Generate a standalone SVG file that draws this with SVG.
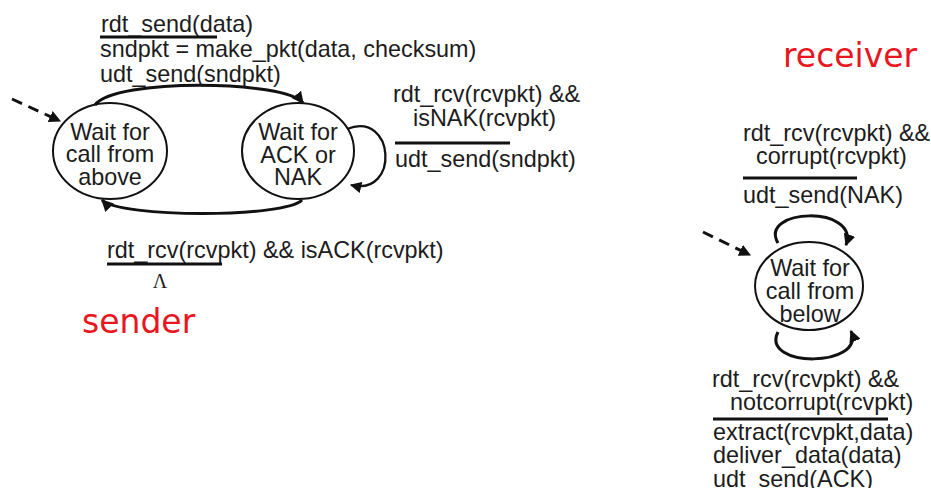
<svg xmlns="http://www.w3.org/2000/svg" width="931" height="488" viewBox="0 0 931 488">
<style>
.t{font-family:"Liberation Sans",Arial,sans-serif;font-size:23.4px;fill:#1c1c1c}
.c{text-anchor:middle}
.st{fill:none;stroke:#111;stroke-width:2}
.e{fill:none;stroke:#111;stroke-width:3}
.s{fill:none;stroke:#111;stroke-width:2.3}
.d{fill:none;stroke:#111;stroke-width:3;stroke-dasharray:11 7}
.u{stroke:#111;stroke-width:3}
.r{font-family:"DejaVu Sans",sans-serif;font-size:33px;fill:#e8161e}
</style>
<defs>
<marker id="ah" viewBox="0 0 10 10" refX="9" refY="5" markerWidth="4" markerHeight="4" orient="auto" markerUnits="strokeWidth">
<path d="M0,0 L10,5 L0,10 z" fill="#111"/>
</marker>
<marker id="ah2" viewBox="0 0 10 10" refX="9" refY="5" markerWidth="5" markerHeight="5" orient="auto" markerUnits="strokeWidth">
<path d="M0,0 L10,5 L0,10 z" fill="#111"/>
</marker>
</defs>
<rect width="931" height="488" fill="#fff"/>
<g id="connectors">
<path class="d" d="M12 99 L60 121" marker-end="url(#ah)"/>
<path class="e" d="M95 105 C115 78 285 80 303 103" marker-end="url(#ah)"/>
<path class="e" d="M302 200 C285 218 120 218 102 200" marker-end="url(#ah)"/>
<path class="s" d="M347 129 C395 110 400 197 351 185" marker-end="url(#ah2)"/>
<path class="d" d="M703 232 L750 255" marker-end="url(#ah)"/>
<path class="e" d="M778 243 C758 208 860 205 846 245" marker-end="url(#ah)"/>
<path class="e" d="M778 332 C760 368 866 368 851 331" marker-end="url(#ah)"/>
</g>
<g id="sender-wait-above">
<ellipse class="st" cx="110" cy="151" rx="57" ry="48"/>
<text class="t c" x="110" y="140">Wait for</text>
<text class="t c" x="110" y="162">call from</text>
<text class="t c" x="110" y="185">above</text>
</g>
<g id="sender-wait-ack">
<ellipse class="st" cx="298" cy="151" rx="56" ry="48"/>
<text class="t c" x="298" y="140">Wait for</text>
<text class="t c" x="298" y="163">ACK or</text>
<text class="t c" x="298" y="185">NAK</text>
</g>
<g id="receiver-wait-below">
<ellipse class="st" cx="809" cy="286" rx="54" ry="44"/>
<text class="t c" x="810" y="276">Wait for</text>
<text class="t c" x="810" y="299">call from</text>
<text class="t c" x="810" y="322">below</text>
</g>
<g id="labels">
<text class="t" x="101" y="32">rdt_send(data)</text>
<line class="u" x1="100" y1="37" x2="217" y2="37"/>
<text class="t" x="100" y="57">sndpkt = make_pkt(data, checksum)</text>
<text class="t" x="100" y="82">udt_send(sndpkt)</text>
<text class="t" x="393" y="102">rdt_rcv(rcvpkt) &amp;&amp;</text>
<text class="t" x="413" y="126">isNAK(rcvpkt)</text>
<line class="u" x1="395" y1="143" x2="510" y2="143"/>
<text class="t" x="395" y="167">udt_send(sndpkt)</text>
<text class="t" x="107" y="258">rdt_rcv(rcvpkt) &amp;&amp; isACK(rcvpkt)</text>
<line class="u" x1="107" y1="264" x2="222" y2="264"/>
<text x="160" y="288" text-anchor="middle" style="font-family:'Liberation Serif',serif;font-size:20px;fill:#1c1c1c">Λ</text>
<text class="r" x="82" y="333">sender</text>
<text class="r" x="783" y="67">receiver</text>
<text class="t" x="743" y="141">rdt_rcv(rcvpkt) &amp;&amp;</text>
<text class="t" x="756" y="164">corrupt(rcvpkt)</text>
<line class="u" x1="743" y1="178" x2="857" y2="178"/>
<text class="t" x="743" y="203">udt_send(NAK)</text>
<text class="t" x="712" y="387">rdt_rcv(rcvpkt) &amp;&amp;</text>
<text class="t" x="730" y="410">notcorrupt(rcvpkt)</text>
<line class="u" x1="713" y1="419" x2="888" y2="419"/>
<text class="t" x="713" y="440">extract(rcvpkt,data)</text>
<text class="t" x="713" y="463">deliver_data(data)</text>
<text class="t" x="713" y="487">udt_send(ACK)</text>
</g>
</svg>
